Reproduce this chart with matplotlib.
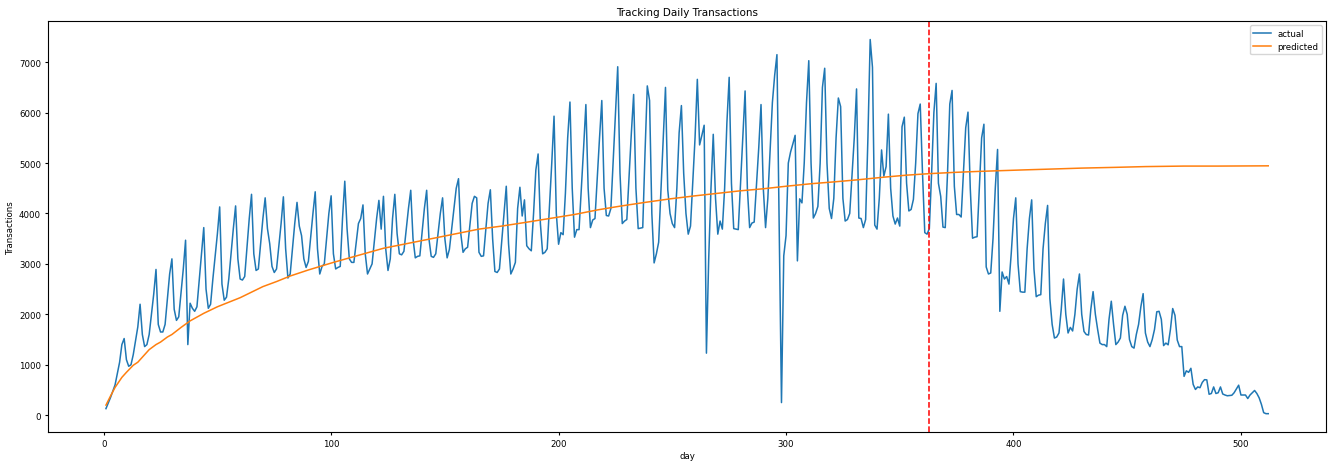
import matplotlib
matplotlib.use('Agg')
from matplotlib import pyplot as plt

plt.rcParams['font.size'] = 6.2

# dias e valores (actual)
actual_day = [1, 3, 5, 7, 8, 9, 10, 11, 12, 13, 15, 16, 17, 18, 19, 20, 22, 23, 24, 25, 26, 27, 29, 30,
              31, 32, 33, 35, 36, 37, 38, 39, 40, 41, 43, 44, 45, 46, 47, 48, 50, 51, 52, 53, 54, 55, 57, 58,
              59, 60, 61, 62, 64, 65, 66, 67, 68, 70, 71, 72, 73, 74, 75, 76, 78, 79, 80, 81, 82, 84, 85, 86,
              87, 88, 89, 90, 92, 93, 94, 95, 96, 97, 99, 100, 101, 102, 103, 104, 105, 106, 107, 108, 109, 110,
              112, 113, 114, 115, 116, 117, 118, 120, 121, 122, 123, 124, 125, 126, 127, 128, 129, 130, 131, 132,
              134, 135, 136, 137, 138, 139, 141, 142, 143, 144, 145, 146, 148, 149, 150, 151, 152, 154, 155, 156,
              157, 158, 159, 160, 162, 163, 164, 165, 166, 167, 169, 170, 171, 172, 173, 174, 176, 177, 178, 179,
              180, 181, 182, 183, 184, 185, 186, 187, 188, 189, 190, 191, 192, 193, 194, 195, 197, 198, 199, 200,
              201, 202, 203, 204, 205, 206, 207, 208, 209, 211, 212, 213, 214, 215, 216, 218, 219, 220, 221, 222,
              223, 225, 226, 227, 228, 229, 230, 232, 233, 234, 235, 236, 237, 238, 239, 240, 241, 242, 243, 244,
              246, 247, 248, 249, 250, 251, 252, 253, 254, 255, 256, 257, 258, 260, 261, 262, 263, 264, 265, 266,
              267, 268, 269, 270, 271, 272, 273, 274, 275, 276, 277, 278, 279, 281, 282, 283, 284, 285, 286, 288,
              289, 290, 291, 292, 294, 295, 296, 298, 299, 300, 301, 302, 303, 304, 305, 306, 307, 308, 309, 310,
              311, 312, 313, 314, 315, 316, 317, 318, 319, 320, 321, 322, 323, 324, 325, 326, 327, 328, 330, 331,
              332, 333, 334, 335, 336, 337, 338, 339, 340, 341, 342, 343, 344, 345, 346, 347, 348, 349, 350, 351,
              352, 353, 354, 355, 356, 357, 358, 359, 360, 361, 362, 363, 364, 365, 366, 367, 368, 369, 370, 371,
              372, 373, 374, 375, 376, 377, 378, 379, 380, 381, 382, 383, 384, 385, 386, 387, 388, 389, 390, 391,
              392, 393, 394, 395, 396, 397, 398, 399, 400, 401, 402, 403, 404, 405, 406, 407, 408, 409, 410, 411,
              412, 413, 414, 415, 416, 417, 418, 419, 420, 421, 422, 423, 424, 425, 426, 427, 428, 429, 430, 431,
              432, 433, 434, 435, 436, 437, 438, 439, 440, 441, 442, 443, 444, 445, 446, 447, 448, 449, 450, 451,
              452, 453, 454, 455, 456, 457, 458, 459, 460, 461, 462, 463, 464, 465, 466, 467, 468, 469, 470, 471,
              472, 473, 474, 475, 476, 477, 478, 479, 480, 481, 482, 483, 484, 485, 486, 487, 488, 489, 490, 491,
              492, 493, 494, 495, 496, 497, 498, 499, 500, 501, 502, 503, 504, 505, 506, 507, 508, 509, 510, 511,
              512]
actual_val = [130, 350, 600, 1050, 1400, 1520, 1100, 970, 1000, 1200, 1750, 2200, 1600, 1360, 1400, 1600, 2400, 2890, 1800, 1650, 1650, 1800, 2800, 3100,
              2100, 1880, 1950, 2900, 3470, 1400, 2220, 2120, 2060, 2150, 3200, 3720, 2500, 2120, 2200, 2700, 3600, 4130, 2600, 2280, 2340, 2700, 3700, 4150,
              3100, 2700, 2680, 2750, 3900, 4380, 3200, 2870, 2900, 3900, 4310, 3700, 3400, 2950, 2830, 2900, 3800, 4330, 3300, 2720, 2800, 3800, 4220, 3750,
              3560, 3100, 2930, 3050, 4000, 4430, 3300, 2800, 2950, 3000, 4000, 4350, 3200, 2900, 2930, 2950, 3900, 4640, 3700, 3100, 3030, 3030,
              3800, 3900, 4170, 3200, 2800, 2900, 3000, 3900, 4260, 3690, 4340, 3300, 2870, 3100, 3900, 4380, 3600, 3200, 3180, 3250,
              4100, 4460, 3500, 3120, 3150, 3160, 4100, 4460, 3500, 3150, 3130, 3200, 4000, 4310, 3500, 3120, 3290, 4100, 4500, 4690,
              3600, 3230, 3300, 3330, 4200, 4340, 4310, 3230, 3150, 3160, 4200, 4470, 3500, 2850, 2830, 2900, 4000, 4540, 3400, 2800,
              2900, 3030, 4100, 4520, 3950, 4270, 3360, 3300, 3260, 4000, 4860, 5180, 3800, 3200, 3230, 3300, 5000, 5930, 4000, 3390,
              3620, 3580, 4400, 5500, 6210, 4500, 3530, 3680, 3680, 5300, 6160, 4500, 3720, 3870, 3900, 5500, 6240, 4500, 3960, 3950,
              4100, 6000, 6910, 4800, 3800, 3850, 3880, 5600, 6360, 4500, 3700, 3710, 3720, 5200, 6530, 6240, 4000, 3020, 3200, 3430,
              5500, 6500, 4470, 4000, 3800, 3720, 4500, 5600, 6140, 4800, 4000, 3590, 3750, 5500, 6660, 5360, 5550, 5750, 1230, 3100,
              4500, 5570, 4300, 3590, 3850, 3690, 4500, 5800, 6700, 4600, 3700, 3690, 3680, 5500, 6430, 4500, 3720, 3810, 3830, 5300,
              6160, 4500, 3720, 4300, 6200, 6740, 7150, 250, 3160, 3560, 5000, 5220, 5380, 5550, 3060, 4290, 4210, 5000, 6200, 7030,
              5000, 3910, 4000, 4140, 5000, 6500, 6880, 5000, 4100, 3900, 4300, 5500, 6290, 6120, 4300, 3850, 3880, 4000, 5500, 6470,
              3910, 3900, 3720, 3880, 5500, 7450, 6900, 3770, 3690, 4300, 5260, 4740, 4930, 5970, 4500, 3950, 3790, 3910, 3750, 5720,
              5910, 4600, 4050, 4080, 4280, 5000, 5980, 6170, 4800, 3620, 3590, 3700, 4800, 6000, 6580, 4600, 4340, 3730, 3720, 4800,
              6170, 6440, 4540, 3980, 3980, 3930, 4800, 5700, 6010, 4500, 3510, 3530, 3540, 4500, 5500, 5770, 2940, 2800, 2820, 3500,
              4500, 5270, 2060, 2840, 2700, 2750, 2600, 3200, 3900, 4310, 3000, 2450, 2440, 2440, 3300, 3900, 4270, 2900, 2350, 2380,
              2390, 3300, 3800, 4160, 2310, 1800, 1530, 1550, 1630, 2100, 2700, 2000, 1630, 1740, 1670, 2000, 2500, 2800, 2000, 1660,
              1600, 1590, 2100, 2450, 2000, 1700, 1430, 1400, 1400, 1360, 1900, 2260, 1800, 1400, 1450, 1530, 1980, 2160, 2000, 1500,
              1360, 1330, 1600, 1800, 2150, 2410, 1630, 1450, 1360, 1500, 1700, 2050, 2060, 1900, 1380, 1430, 1395, 1700, 2115, 1980,
              1490, 1360, 1360, 770, 880, 850, 930, 610, 510, 560, 545, 650, 705, 700, 415, 430, 560, 430, 445, 560,
              420, 400, 385, 390, 395, 445, 520, 595, 400, 400, 400, 330, 400, 445, 490, 430, 345, 215, 50, 30,
              30]

# previsao (lida em pontos ao longo da curva)
pred_day = [1, 3, 5, 8, 10, 13, 15, 18, 20, 23, 25, 28, 30, 34, 38, 44, 50, 55, 60, 65, 70, 76, 82, 90,
            101, 112, 123, 133, 143, 154, 165, 175, 185, 196, 207, 217, 227, 238, 249, 260, 270, 280, 290, 300,
            311, 322, 332, 343, 353, 363, 374, 385, 395, 405, 416, 430, 445, 458, 475, 490, 512]
pred_val = [200, 380, 550, 750, 850, 990, 1050, 1200, 1300, 1400, 1450, 1550, 1600, 1740, 1870, 2020, 2150, 2240, 2330, 2440, 2550, 2650, 2760, 2880,
            3030, 3170, 3310, 3400, 3490, 3590, 3690, 3750, 3820, 3900, 3980, 4070, 4145, 4220, 4290, 4350, 4400, 4450, 4490, 4540,
            4590, 4630, 4670, 4720, 4760, 4790, 4815, 4835, 4850, 4865, 4880, 4900, 4915, 4930, 4940, 4940, 4945]

split_day = 363

fig = plt.figure(figsize=(13.29, 4.64), dpi=100)
ax = fig.add_axes([0.036, 0.066, 0.962, 0.887])
ax.plot(actual_day, actual_val, label='actual', linewidth=1.1)
ax.plot(pred_day, pred_val, label='predicted', linewidth=1.1)
ax.axvline(split_day, color='red', linestyle='--', linewidth=1.1)
ax.set_title('Tracking Daily Transactions', fontsize=7.5, pad=4)
ax.set_xlabel('day', labelpad=2)
ax.set_ylabel('Transactions', labelpad=3)
ax.tick_params(labelsize=6.2, pad=2.5, length=2.5)
ax.legend(loc='upper right', fontsize=6.2)
fig.savefig('out.png', dpi=100)
